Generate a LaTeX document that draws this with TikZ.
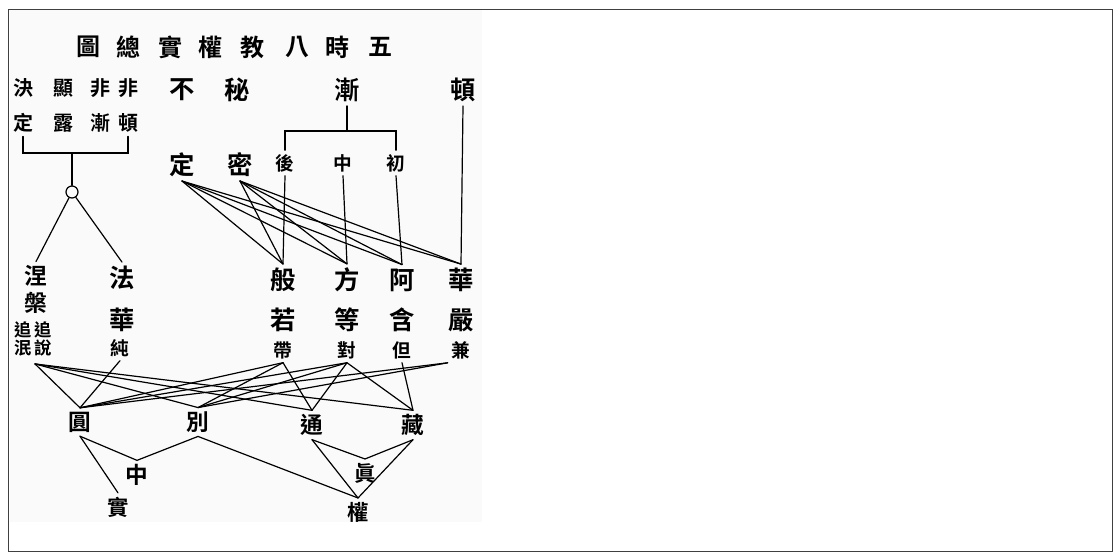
\documentclass[tikz,border=0pt]{standalone}
\usepackage{fontspec}
\newfontfamily\cjk{Noto Sans CJK TC}[BoldFont={* Bold}]
\usetikzlibrary{
  calc,
  positioning,
}
\tikzset{
  zi/.style={font=\cjk\bfseries\fontsize{#1}{#1}\selectfont, inner sep=0pt, outer sep=3pt},
  link/.style={line width=0.9pt, line cap=round},
}

\begin{document}
\begin{tikzpicture}[x=0.75pt, y=-0.75pt]
      \useasboundingbox (0,0) rectangle (1113,560);
      \fill[black!2] (10,10) rectangle (482,522);
      \draw[line width=0.75pt, black!75] (8,10) rectangle (1112,551);

      % title
      \foreach \x/\c [count=\i] in {88/圖,128/總,170/實,210/權,252/教,297/八,337/時,380/五} {
        \node[zi=18] (t\i) at (\x,47) {\c};
      }

      % left columns
      \foreach \x/\a/\b [count=\i] in {23/決/定, 63/顯/露, 100/非/漸, 128/非/頓} {
        \node[zi=15] (p\i) at (\x,88) {\a};
        \node[zi=15] (q\i) at (\x,123) {\b};
      }
      \coordinate (qb) at (71,153);
      \draw[link] (q1.south) -- (q1.south |- qb) -- (q4.south |- qb) -- (q4.south);
      \node[circle, draw, line width=0.9pt, minimum size=9pt, inner sep=0pt] (o) at (72,192) {};
      \draw[link] (o.north) -- (o.north |- qb);

      \node[zi=17] (nie) at (36,276) {涅};
      \node[zi=17] (pan) at (36,303) {槃};
      \node[zi=13] (zh1) at (23,330) {追};
      \node[zi=13] (zh2) at (43,330) {追};
      \node[zi=13] (min) at (23,348) {泯};
      \node[zi=13] (shuo) at (43,348) {說};
      \node[inner sep=0pt] (np) at (35,363) {};
      \node[zi=19] (fa) at (122,278) {法};
      \node[zi=19] (hua1) at (122,320) {華};
      \node[zi=14] (chun) at (120,348) {純};
      \draw[link] (o) -- (nie.north);
      \draw[link] (o) -- (fa.north);

      % upper middle
      \node[zi=19] (bu) at (182,90) {不};
      \node[zi=19] (mi1) at (237,90) {秘};
      \node[zi=19] (jian) at (347,90) {漸};
      \node[zi=19] (dun) at (463,90) {頓};
      \node[zi=19] (ding) at (182,165) {定};
      \node[zi=19] (mi2) at (240,165) {密};
      \node[zi=14] (hou) at (285,163) {後};
      \node[zi=14] (zhong1) at (343,163) {中};
      \node[zi=14] (chu) at (396,163) {初};
      \coordinate (jb) at (347,131);
      \draw[link] (jian.south) -- (jb);
      \draw[link] (hou.north) -- (hou.north |- jb) -- (chu.north |- jb) -- (chu.north);

      % five periods
      \foreach \n/\x/\a/\b/\c/\d in {ban/283/般/ruo/若/帶, fang/347/方/deng/等/對, a/402/阿/han/含/但, hua/461/華/yan/嚴/兼} {
        \node[zi=19] (\n) at (\x,280) {\a};
        \node[zi=19] (\b) at (\x,320) {\c};
        \node[zi=14] (\n-s) at (\x,350) {\d};
      }
      \draw[link] (hou.south) -- (ban.north);
      \draw[link] (zhong1.south) -- (fang.north);
      \draw[link] (chu.south) -- (a.north);
      \draw[link] (dun.south) -- (hua.north);
      \foreach \s in {ding, mi2} {
        \foreach \t in {ban, fang, a, hua} {
          \draw[link] (\s.south) -- (\t.north);
        }
      }

      % four teachings
      \node[zi=17] (yuan) at (80,422) {圓};
      \node[zi=17] (bie) at (198,422) {別};
      \node[zi=17] (tong) at (312,425) {通};
      \node[zi=17] (zang) at (413,425) {藏};
      \node[zi=17] (zhong2) at (137,475) {中};
      \node[zi=16] (shi) at (118,507) {實};
      \node[zi=16] (zhen) at (365,473) {眞};
      \node[zi=16] (quan) at (358,512) {權};

      \foreach \s/\t in {np/yuan, np/bie, np/tong, np/zang, chun/yuan,
        ban-s/yuan, ban-s/bie, ban-s/tong,
        fang-s/yuan, fang-s/bie, fang-s/tong, fang-s/zang, a-s/zang} {
        \draw[link] (\s.south) -- (\t.north);
      }
      \draw[link] (hua-s.south west) -- (yuan.north);
      \draw[link] (hua-s.south west) -- (bie.north);

      \draw[link] (yuan.south) -- (zhong2.north) -- (bie.south);
      \draw[link] (yuan.south) -- (shi.north);
      \draw[link] (bie.south) -- (quan.north);
      \draw[link] (tong.south) -- (zhen.north) -- (zang.south);
      \draw[link] (tong.south) -- (quan.north);
      \draw[link] (zang.south) -- (quan.north);
    \end{tikzpicture}
\end{document}
